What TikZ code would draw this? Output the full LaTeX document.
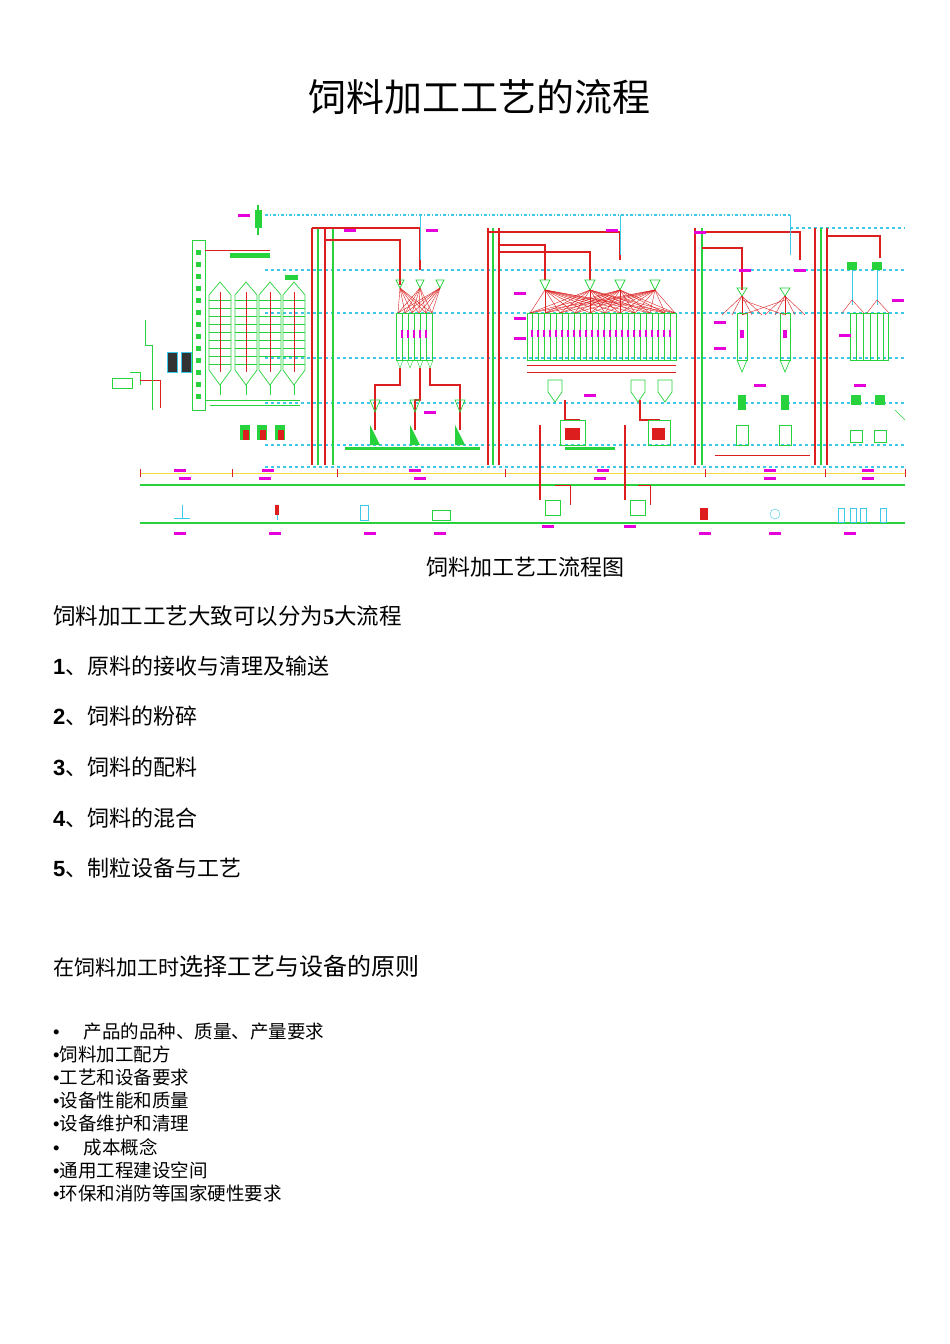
\documentclass[tikz,border=0pt]{standalone}
\usepackage{fontspec}
\setmainfont{Liberation Sans}
\newfontfamily\cjk{Noto Sans CJK SC}
\definecolor{cy}{RGB}{60,200,230}
\definecolor{rd}{RGB}{220,30,30}
\definecolor{gr}{RGB}{40,210,60}
\definecolor{mg}{RGB}{230,0,220}
\definecolor{yl}{RGB}{240,220,60}
\tikzset{cline/.style={cy,dashed,line width=1.1pt},
 rpipe/.style={rd,line width=1.2pt},
 gpipe/.style={gr,line width=1.2pt},
 bin/.style={draw=gr,line width=0.7pt},
 lab/.style={fill=mg,inner sep=0pt,minimum width=12pt,minimum height=3pt},
 txt/.style={anchor=west,inner sep=0pt,font=\cjk}}
\newcommand{\bul}{{\fontspec{Liberation Sans}•}}
\begin{document}
\begin{tikzpicture}[x=1pt,y=-1pt]
\useasboundingbox (0,0) rectangle (950,1344);
\fill[white] (0,0) rectangle (950,1344);
% title
\node[font=\cjk\fontsize{38}{42}\selectfont] (title) at (479,97) {饲料加工工艺的流程};
% ===== drawing =====
\draw[cline,dash dot] (265,215) -- (790,215);
\foreach \y in {270,313,358,403,445,467} \draw[cline] (265,\y) -- (905,\y);
\draw[cline] (790,228) -- (905,228);
\draw[yl,line width=1pt] (140,473) -- (905,473);
\foreach \x in {140,232,337,505,705,825,905} \draw[rd] (\x,469) -- (\x,477);
\draw[gr,line width=1.5pt] (140,485) -- (905,485);
\draw[gr,line width=2pt] (140,523) -- (905,523);
% vertical pipes
\foreach \x/\c in {312/rd,318/gr,325/rd,333/gr,488/rd,493/gr,499/rd,695/rd,702/gr,815/rd,821/gr,827/rd}
  \draw[\c,line width=1.3pt] (\x,228) -- (\x,465);
% horizontal pipes top
\draw[rpipe] (312,228) -- (420,228) -- (420,270);
\draw[rpipe] (325,240) -- (400,240) -- (400,285);
\draw[rpipe] (488,232) -- (620,232) -- (620,260);
\draw[rpipe] (499,245) -- (545,245) -- (545,280);
\draw[rpipe] (499,252) -- (590,252) -- (590,280);
\draw[rpipe] (695,232) -- (800,232) -- (800,260);
\draw[rpipe] (702,248) -- (742,248) -- (742,290);
\draw[rpipe] (827,236) -- (880,236) -- (880,258);
\draw[cy] (420,215) -- (420,260);\draw[cy] (620,215)--(620,255);\draw[cy] (790,215)--(790,255);
% left receiving
\draw[gpipe] (258,205) -- (258,235);
\fill[gr] (255,210) rectangle (262,228);
\draw[gr] (112,378) rectangle (132,388); \draw[gr] (130,372)--(140,372)--(140,385);
\draw[rd] (140,380) -- (160,380) -- (160,408);
\draw[gr] (145,320)--(145,345)--(152,345)--(152,410);
\foreach \x in {172,186} {\fill[black!80] (\x-5,352) rectangle (\x+5,372); \draw[cy] (\x-5,352) rectangle (\x+5,372);}
\draw[gr,line width=1pt] (192,240) rectangle (205,410);
\foreach \y in {250,262,...,400} \fill[gr] (196,\y) rectangle (201,\y+5);
\draw[rd] (205,250) -- (270,250);
\draw[gr] (205,400) -- (300,400); \draw[gr] (210,405)--(300,405);
% silos
\foreach \x in {220,246,270,294} {
  \draw[bin] (\x-11,295) -- (\x,282) -- (\x+11,295) -- (\x+11,370) -- (\x,385) -- (\x-11,370) -- cycle;
  \foreach \y in {300,308,...,364} \draw[gr] (\x-11,\y) -- (\x+11,\y);
  \draw[rd,line width=1pt] (\x,292) -- (\x,372);
  \draw[gr] (\x,385) -- (\x,395);
}
\fill[gr] (230,253) rectangle (270,258);
\fill[gr] (285,275) rectangle (298,280);
% group 1
\foreach \x in {400,420,440} {
  \draw[bin] (\x-4,280) -- (\x+4,280) -- (\x,288) -- cycle;
  \foreach \t in {398,405,412,419,426,432} \draw[rd] (\x,288) -- (\t,313);
}
\draw[bin] (396,313) rectangle (432,360);
\foreach \t in {402,408,414,420,426} {\draw[gr] (\t,313)--(\t,360); \fill[mg] (\t-1,330) rectangle (\t+1,338);}
\foreach \t in {400,410,420,430} \draw[gr] (\t-3,360)--(\t,368)--(\t+3,360);
\draw[rpipe] (400,368)--(400,385)--(375,385)--(375,430);
\draw[rpipe] (420,368)--(420,400)--(415,400)--(415,430);
\draw[rpipe] (430,368)--(430,385)--(460,385)--(460,430);
\foreach \x in {375,415,460} {\draw[bin] (\x-5,400)--(\x+5,400)--(\x,412)--cycle; \fill[gr] (\x-5,425)--(\x,435)--(\x+5,445)--(\x-5,445)--cycle;}
\fill[gr] (345,447) rectangle (480,450);
\foreach \x in {245,262,280} {\fill[gr] (\x-5,425) rectangle (\x+5,440); \fill[rd] (\x-2,430) rectangle (\x+4,440);}
% group 2
\foreach \x in {545,590,620,655} {
  \draw[bin] (\x-5,280) -- (\x+5,280) -- (\x,290) -- cycle;
  \foreach \t in {530,545,560,575,590,605,620,635,650,665,675} \draw[rd] (\x,290) -- (\t,313);
}
\draw[bin] (527,313) rectangle (676,360);
\foreach \t in {532,538,...,670} {\draw[gr] (\t,313)--(\t,360); \fill[mg] (\t-1,330) rectangle (\t+1,337);}
\draw[rd] (527,365) -- (676,365);
\draw[rd] (527,372) -- (676,372);
\foreach \x in {555,638,665} {\draw[bin] (\x-7,380)--(\x+7,380)--(\x+7,392)--(\x,402)--(\x-7,392)--cycle;}
\draw[rpipe] (565,400)--(565,420)--(580,420);
\draw[rpipe] (640,400)--(640,420)--(660,420);
\draw[bin] (560,420) rectangle (585,445); \fill[rd] (565,428) rectangle (580,440);
\draw[bin] (648,420) rectangle (670,445); \fill[rd] (652,428) rectangle (665,440);
\fill[gr] (565,447) rectangle (615,450);
\draw[rpipe] (540,425)--(540,500); \draw[rpipe] (625,425)--(625,500);
\draw[gr] (545,500) rectangle (560,515); \draw[gr] (630,500) rectangle (645,515);
\draw[rd] (555,485)--(570,485)--(570,505);\draw[rd] (638,485)--(650,485)--(650,505);
% group 3
\foreach \x in {742,785} {
  \draw[bin] (\x-5,288)--(\x+5,288)--(\x,296)--cycle;
  \foreach \t in {-20,-10,0,10,20} \draw[rd] (\x,296)--(\x+\t,315);
  \draw[bin] (\x-5,313) rectangle (\x+5,360); \draw[bin] (\x-5,360)--(\x,372)--(\x+5,360);
  \fill[mg] (\x-2,330) rectangle (\x+2,338);
  \fill[gr] (\x-4,395) rectangle (\x+4,410);
  \draw[bin] (\x-6,425) rectangle (\x+6,445);
}
\draw[rd] (742,300)--(785,315); \draw[rd] (785,300)--(742,315);
\draw[rd] (715,455)--(810,455);
% group 4
\draw[bin] (850,313) rectangle (888,360);
\foreach \t in {856,863,870,877,883} \draw[gr] (\t,313)--(\t,360);
\foreach \x in {852,877} {\fill[gr] (\x-5,262) rectangle (\x+5,270); \draw[cy,line width=1pt] (\x,270)--(\x,305); \draw[rd] (\x,300)--(\x-10,313); \draw[rd] (\x,300)--(\x+12,313);}
\foreach \x in {856,880} {\fill[gr] (\x-5,395) rectangle (\x+5,405); \draw[bin] (\x-6,430) rectangle (\x+6,442);}
\draw[gr] (895,410) -- (905,420);
% labels (magenta)
\foreach \x/\y [count=\k] in {244/215,350/230,432/230,612/230,700/232,520/293,520/318,520/338,720/322,720/348,845/335,898/300,430/412,590/395,745/270,800/270,760/385,860/385,180/470,268/470,415/470,603/470,770/470,868/470,185/478,265/478,420/478,600/478,770/478,868/478,180/533,275/533,370/533,440/533,548/526,630/526,705/533,775/533,850/533}
  \node[lab] (lab\k) at (\x,\y) {};
% bottom icons
\draw[cy] (182,505)--(182,518); \draw[cy] (174,518)--(190,518);
\fill[rd] (275,505) rectangle (279,515); \draw[cy] (277,515)--(277,520);
\draw[cy] (360,505) rectangle (368,520);
\draw[gr] (432,510) rectangle (450,520);
\fill[rd] (700,508) rectangle (708,520);
\draw[cy] (775,514) circle (5);
\foreach \x in {838,850,860,880} \draw[cy] (\x,508) rectangle (\x+6,522);
% ===== text =====
\node[font=\cjk\fontsize{22}{26}\selectfont] (cap) at (525,567) {饲料加工艺工流程图};
\node[txt,font=\cjk\fontsize{22.5}{26}\selectfont] (intro) at (53,616) {饲料加工工艺大致可以分为\textbf{\fontspec{Liberation Serif}5}大流程};
\foreach \n/\y/\t in {1/666/原料的接收与清理及输送,2/716/饲料的粉碎,3/767/饲料的配料,4/818/饲料的混合,5/868/制粒设备与工艺}
  \node[txt,font=\cjk\fontsize{22}{26}\selectfont] (item\n) at (53,\y) {{\fontspec{Liberation Sans}\bfseries\n}、\t};
\node[txt] (prin) at (53,966) {{\fontsize{21}{24}\selectfont 在饲料加工时}{\fontsize{24}{27}\selectfont 选择工艺与设备的原则}};
\foreach \i/\y/\t in {1/1031/{\bul\hspace{24pt}产品的品种、质量、产量要求},2/1054/\bul 饲料加工配方,3/1077/\bul 工艺和设备要求,4/1100/\bul 设备性能和质量,5/1123/\bul 设备维护和清理,6/1147/{\bul\hspace{24pt}成本概念},7/1170/\bul 通用工程建设空间,8/1193/\bul 环保和消防等国家硬性要求}
  \node[txt,font=\cjk\fontsize{18.5}{21}\selectfont] (b\i) at (53,\y) {\t};
\end{tikzpicture}
\end{document}
